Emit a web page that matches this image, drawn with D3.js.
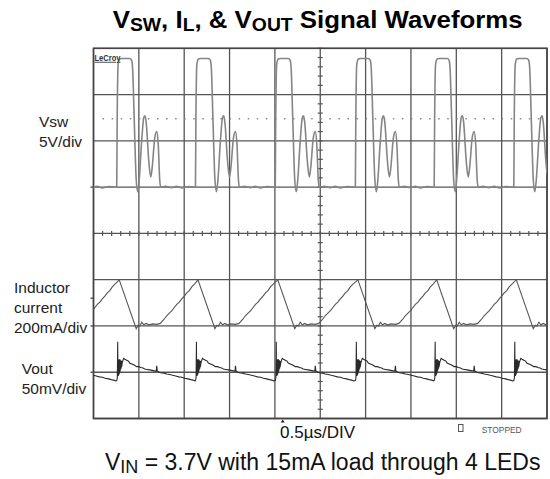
<!DOCTYPE html>
<html>
<head>
<meta charset="utf-8">
<script src="https://cdn.jsdelivr.net/npm/d3@7/dist/d3.min.js"></script>
<style>
  body { margin: 0; background: #fff; }
  svg { display: block; font-family: Arial, "Liberation Sans", Helvetica, sans-serif; }
</style>
</head>
<body>
<div id="chart"></div>
<script>
// screen settings
var timeDomain = [0, 5]        // µs, 0.5 µs/div, 10 div
var vswDomain = [-25, 15]      // V, 5 V/div
var ilDomain = [-400, 1200]    // mA, 200 mA/div
var voutDomain = [-50, 350]    // mV, 50 mV/div

// rising edges of Vsw (µs), the first one is just off screen
var cycleStarts = [-0.62, 0.256, 1.124, 2.004, 2.887, 3.756, 4.634]

// one switching cycle, time offset from the Vsw rising edge in ns
var vswT = [0, 5, 16, 33, 55, 143, 165, 176, 193, 215, 232, 248, 276, 298, 312, 325, 353, 375, 391, 419, 441, 458, 474, 485, 540, 606, 660, 717, 790, 860]
var vswV = [0, 7.3, 13.3, 13.85, 13.9, 13.9, 13.7, 12.7, 7.3, 0.8, -0.5, 0.8, 5.1, 7.5, 7.7, 7.0, 2.9, 1.1, 2.1, 5.3, 6.0, 4.6, 0.8, 0, 0.1, -0.05, 0.1, -0.1, 0.05, 0]

var ilT = [28, 215, 237, 254, 276, 298, 325, 353, 397, 441, 480, 520, 551, 580, 606, 640, 662, 690, 717, 745, 772, 800, 827, 860]
var ilV = [199, -12, 3, 0, 16, 5, 11, 5, 9, 7, 11, 28, 44, 55, 65, 82, 93, 103, 117, 129, 143, 153, 169, 182]

var voutT = [0, 7, 11, 13, 15, 18, 20, 23, 25, 28, 30, 33, 35, 38, 40, 43, 46, 49, 52, 55, 60, 66, 77, 90, 110, 130, 143, 165, 187, 205, 220, 245, 265, 290, 309, 335, 364, 390, 419, 436, 441, 447, 470, 485, 520, 551, 585, 617, 650, 684, 717, 750, 785, 816, 840, 862]
var voutV = [-9, -6, 33, -4, 12, -4, 13, -3, 14, -2, 14, 0, 14, 1, 13, 3, 13, 4, 12, 6, 10, 12, 15, 14, 13, 12, 10, 9, 8, 7, 6, 6, 5, 4.5, 3.5, 3, 2.5, 2, 1.5, 1, 7, 1.5, 0, -0.5, -1, -2, -2.5, -3.3, -4, -5, -5.5, -6.5, -7.2, -8, -8.5, -9.3]

var vswRefLevel = 7.4          // V, dotted level line
var ilMarkers = [0, 120]       // mA, markers on the left edge
var triggerTime = 2.086        // µs, arrow under the grid

var width = 550
var height = 479
var plotLeft = 93.5, plotRight = 547, plotTop = 48.3, plotBottom = 418.5

var x = d3.scaleLinear().domain(timeDomain).range([plotLeft, plotRight])
var yVsw = d3.scaleLinear().domain(vswDomain).range([plotBottom, plotTop])
var yIL = d3.scaleLinear().domain(ilDomain).range([plotBottom, plotTop])
var yVout = d3.scaleLinear().domain(voutDomain).range([plotBottom, plotTop])
var yDiv = d3.scaleLinear().domain([-4, 4]).range([plotBottom, plotTop])

var svg = d3.select('#chart')
  .append('svg')
  .attr('width', width)
  .attr('height', height)

svg.append('defs').append('clipPath')
  .attr('id', 'screen')
  .append('rect')
  .attr('x', plotLeft)
  .attr('y', plotTop)
  .attr('width', plotRight - plotLeft)
  .attr('height', plotBottom - plotTop)

/**
 * grid
 */
var grid = svg.append('g')

grid.selectAll('.vline')
  .data(d3.range(0, 5.0001, 0.5))
  .enter()
  .append('line')
  .attr('x1', d => x(d)).attr('x2', d => x(d))
  .attr('y1', plotTop).attr('y2', plotBottom)
  .attr('stroke', '#555')
  .attr('stroke-width', 1.3)

grid.selectAll('.hline')
  .data(d3.range(-4, 5))
  .enter()
  .append('line')
  .attr('x1', plotLeft).attr('x2', plotRight)
  .attr('y1', d => yDiv(d)).attr('y2', d => yDiv(d))
  .attr('stroke', '#555')
  .attr('stroke-width', 1.3)

// minor ticks on the centre cross
grid.selectAll('.ytick')
  .data(d3.range(-4, 4.001, 0.2))
  .enter()
  .append('line')
  .attr('x1', x(2.5) - 2.5).attr('x2', x(2.5) + 2.5)
  .attr('y1', d => yDiv(d)).attr('y2', d => yDiv(d))
  .attr('stroke', '#555')
  .attr('stroke-width', 1.2)

grid.selectAll('.xtick')
  .data(d3.range(0, 5.0001, 0.1))
  .enter()
  .append('line')
  .attr('x1', d => x(d)).attr('x2', d => x(d))
  .attr('y1', yDiv(0) - 2.5).attr('y2', yDiv(0) + 2.5)
  .attr('stroke', '#555')
  .attr('stroke-width', 1.2)

grid.append('rect')
  .attr('x', plotLeft).attr('y', plotTop)
  .attr('width', plotRight - plotLeft).attr('height', plotBottom - plotTop)
  .attr('fill', 'none')
  .attr('stroke', '#444')
  .attr('stroke-width', 1.6)

// dotted reference level on the Vsw channel
grid.append('line')
  .attr('x1', x(0.1)).attr('x2', plotRight)
  .attr('y1', yVsw(vswRefLevel)).attr('y2', yVsw(vswRefLevel))
  .attr('stroke', '#8a8a8a')
  .attr('stroke-width', 1.5)
  .attr('stroke-dasharray', '1.5,' + (x(0.1) - x(0) - 1.5))

// channel markers on the left edge
var markerYs = [yVsw(0), yVout(0)].concat(ilMarkers.map(d => yIL(d)))
grid.selectAll('.marker')
  .data(markerYs)
  .enter()
  .append('line')
  .attr('x1', plotLeft - 3).attr('x2', plotLeft)
  .attr('y1', d => d).attr('y2', d => d)
  .attr('stroke', '#444')
  .attr('stroke-width', 1.3)

/**
 * traces
 */
function buildTrace(ts, vs) {
  var pts = []
  cycleStarts.forEach(s => {
    ts.forEach((t, i) => pts.push({ t: s + t / 1000, v: vs[i] }))
  })
  return pts
}

var traces = svg.append('g').attr('clip-path', 'url(#screen)')

traces.append('path')
  .datum(buildTrace(vswT, vswV))
  .attr('d', d3.line().x(d => x(d.t)).y(d => yVsw(d.v)).curve(d3.curveMonotoneX))
  .attr('fill', 'none')
  .attr('stroke', '#858585')
  .attr('stroke-width', 1.6)

traces.append('path')
  .datum(buildTrace(ilT, ilV))
  .attr('d', d3.line().x(d => x(d.t)).y(d => yIL(d.v)))
  .attr('fill', 'none')
  .attr('stroke', '#555')
  .attr('stroke-width', 1.1)

traces.append('path')
  .datum(buildTrace(voutT, voutV))
  .attr('d', d3.line().x(d => x(d.t)).y(d => yVout(d.v)))
  .attr('fill', 'none')
  .attr('stroke', '#2a2a2a')
  .attr('stroke-width', 1.1)

/**
 * texts
 */
var title = svg.append('text')
  .attr('x', 112.7)
  .attr('y', 28.3)
  .attr('font-size', 24)
  .attr('font-weight', 'bold')
  .attr('fill', '#000')
  .attr('textLength', 410)
  .attr('lengthAdjust', 'spacingAndGlyphs')

var titleParts = [
  ['V', false], ['SW', true], [', I', false], ['L', true],
  [', & V', false], ['OUT', true], [' Signal Waveforms', false]
]
titleParts.forEach((p, i) => {
  var prevSub = i > 0 && titleParts[i - 1][1]
  title.append('tspan')
    .attr('font-size', p[1] ? 18 : 24)
    .attr('dy', p[1] ? 3 : (prevSub ? -3 : 0))
    .text(p[0])
})

var labelStyle = t => t.attr('font-size', 15.5).attr('fill', '#222')

var channelLabels = [
  { x: 39, y: 126.7, text: 'Vsw' },
  { x: 39, y: 146.7, text: '5V/div' },
  { x: 14, y: 292.7, text: 'Inductor' },
  { x: 14, y: 312.7, text: 'current' },
  { x: 14, y: 332.7, text: '200mA/div' },
  { x: 21.7, y: 374, text: 'Vout' },
  { x: 21.7, y: 394, text: '50mV/div' }
]
svg.selectAll('.chlabel')
  .data(channelLabels)
  .enter()
  .append('text')
  .attr('x', d => d.x)
  .attr('y', d => d.y)
  .text(d => d.text)
  .call(labelStyle)

svg.append('text')
  .attr('x', plotLeft + 1)
  .attr('y', plotTop + 12.5)
  .attr('font-size', 8.5)
  .attr('font-weight', 'bold')
  .attr('fill', '#333')
  .attr('textLength', 26)
  .attr('lengthAdjust', 'spacingAndGlyphs')
  .attr('text-decoration', 'underline')
  .text('LeCroy')

// trigger arrow under the grid
svg.append('path')
  .attr('d', `M${x(triggerTime) - 2},${plotBottom + 4} L${x(triggerTime)},${plotBottom + 1} L${x(triggerTime) + 2},${plotBottom + 4} Z`)
  .attr('fill', '#222')

svg.append('text')
  .attr('x', 280)
  .attr('y', 438.3)
  .attr('font-size', 17)
  .attr('fill', '#111')
  .text('0.5µs/DIV')

svg.append('rect')
  .attr('x', 458.5).attr('y', 424.5)
  .attr('width', 4.5).attr('height', 7)
  .attr('fill', 'none')
  .attr('stroke', '#555')
  .attr('stroke-width', 1)

svg.append('text')
  .attr('x', 481.7)
  .attr('y', 433.3)
  .attr('font-size', 9)
  .attr('fill', '#555')
  .attr('textLength', 40)
  .attr('lengthAdjust', 'spacingAndGlyphs')
  .text('STOPPED')

var bottom = svg.append('text')
  .attr('x', 105)
  .attr('y', 470)
  .attr('font-size', 23)
  .attr('fill', '#111')
bottom.append('tspan').text('V')
bottom.append('tspan').attr('font-size', 18).attr('dy', 3.3).text('IN')
bottom.append('tspan').attr('dy', -3.3).text(' = 3.7V with 15mA load through 4 LEDs')
</script>
</body>
</html>
